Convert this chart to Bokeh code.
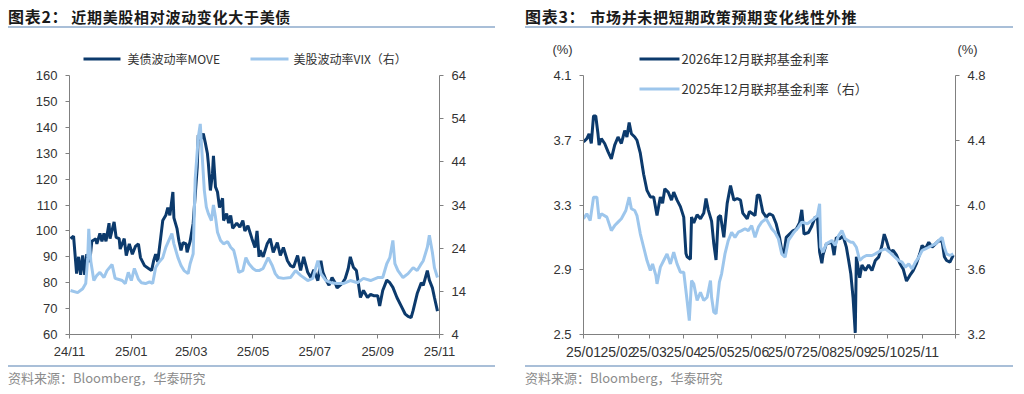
import pandas as pd
from bokeh.plotting import figure
from bokeh.layouts import row, column
from bokeh.models import (Range1d, LinearAxis, FixedTicker, DatetimeTickFormatter,
                          NumeralTickFormatter, Label, BoxAnnotation, Div)
from bokeh.embed import file_html
from bokeh.resources import INLINE

# ---------------- data: chart 2 ----------------
move_dates = ["2024-11-02", "2024-11-05", "2024-11-08", "2024-11-10", "2024-11-12", "2024-11-14",
              "2024-11-16", "2024-11-18", "2024-11-21", "2024-11-23", "2024-11-27", "2024-11-28",
              "2024-12-01", "2024-12-03", "2024-12-05", "2024-12-07", "2024-12-10", "2024-12-11",
              "2024-12-15", "2024-12-17", "2024-12-20", "2024-12-21", "2024-12-25", "2024-12-27",
              "2024-12-30", "2025-01-02", "2025-01-05", "2025-01-08", "2025-01-10", "2025-01-14",
              "2025-01-18", "2025-01-21", "2025-01-23", "2025-01-25", "2025-01-27", "2025-01-30",
              "2025-02-01", "2025-02-04", "2025-02-06", "2025-02-08", "2025-02-11", "2025-02-12",
              "2025-02-15", "2025-02-17", "2025-02-19", "2025-02-21", "2025-02-24", "2025-02-25",
              "2025-02-28", "2025-03-03", "2025-03-07", "2025-03-08", "2025-03-10", "2025-03-13",
              "2025-03-15", "2025-03-17", "2025-03-18", "2025-03-20", "2025-03-22", "2025-03-23",
              "2025-03-25", "2025-03-27", "2025-03-29", "2025-04-01", "2025-04-02", "2025-04-05",
              "2025-04-07", "2025-04-09", "2025-04-11", "2025-04-15", "2025-04-18", "2025-04-21",
              "2025-04-23", "2025-04-26", "2025-04-30", "2025-05-03", "2025-05-05", "2025-05-07",
              "2025-05-08", "2025-05-11", "2025-05-15", "2025-05-18", "2025-05-21", "2025-05-25",
              "2025-05-28", "2025-05-31", "2025-06-04", "2025-06-07", "2025-06-10", "2025-06-14",
              "2025-06-17", "2025-06-20", "2025-06-24", "2025-06-27", "2025-06-30", "2025-07-04",
              "2025-07-07", "2025-07-09", "2025-07-12", "2025-07-15", "2025-07-18", "2025-07-21",
              "2025-07-23", "2025-07-28", "2025-07-31", "2025-08-03", "2025-08-05", "2025-08-08",
              "2025-08-11", "2025-08-13", "2025-08-15", "2025-08-18", "2025-08-22", "2025-08-25",
              "2025-08-28", "2025-09-01", "2025-09-03", "2025-09-06", "2025-09-10", "2025-09-13",
              "2025-09-16", "2025-09-20", "2025-09-25", "2025-09-28", "2025-10-01", "2025-10-04",
              "2025-10-06", "2025-10-10", "2025-10-14", "2025-10-16", "2025-10-20", "2025-10-22",
              "2025-10-25", "2025-10-27", "2025-10-30"]
move_vals = [97, 98, 83.5, 90, 83, 90.5,
             83, 91, 88, 96, 97, 95,
             99, 96, 99, 96, 103, 97,
             103.5, 97.5, 97, 93, 97, 90.5,
             95, 91, 94, 95, 89.7, 86.6,
             85.5, 84.7, 88.5, 91, 88, 97.5,
             104, 106, 109, 106, 115, 105,
             101, 96, 92.5, 95.5, 95, 91.7,
             96, 103, 124.5, 137, 135, 137.6,
             134, 130, 126, 115.6, 122, 129,
             117, 115, 109, 112.6, 104, 106.7,
             103, 106, 101, 103, 101.5, 104,
             100, 102, 97, 93.6, 100, 90,
             92.5, 90, 95, 97, 91.7, 95.5,
             90.5, 93.6, 88.5, 86.6, 86, 90.5,
             84.7, 90, 84, 82, 85, 80.8,
             88.5, 84, 81, 79, 82, 80,
             78, 79.7, 81.6, 85.5, 90, 86,
             84.7, 79.7, 74.3, 77, 74.3, 75.5,
             75, 75, 71, 77, 81, 80,
             78.2, 74.3, 70.4, 68, 67, 66.5,
             69.3, 75.8, 80, 79, 84.7, 81,
             78, 74.3, 69]

vix_dates = ["2024-11-02", "2024-11-09", "2024-11-14", "2024-11-17", "2024-11-19", "2024-11-20",
             "2024-11-22", "2024-11-25", "2024-11-28", "2024-12-01", "2024-12-05", "2024-12-08",
             "2024-12-13", "2024-12-16", "2024-12-19", "2024-12-23", "2024-12-26", "2024-12-29",
             "2025-01-01", "2025-01-04", "2025-01-08", "2025-01-11", "2025-01-15", "2025-01-19",
             "2025-01-22", "2025-01-25", "2025-01-28", "2025-02-01", "2025-02-04", "2025-02-07",
             "2025-02-10", "2025-02-12", "2025-02-16", "2025-02-19", "2025-02-22", "2025-02-26",
             "2025-02-28", "2025-03-03", "2025-03-05", "2025-03-08", "2025-03-10", "2025-03-12",
             "2025-03-14", "2025-03-16", "2025-03-18", "2025-03-21", "2025-03-23", "2025-03-25",
             "2025-03-27", "2025-03-30", "2025-04-02", "2025-04-06", "2025-04-09", "2025-04-12",
             "2025-04-14", "2025-04-17", "2025-04-21", "2025-04-24", "2025-04-27", "2025-05-01",
             "2025-05-04", "2025-05-07", "2025-05-11", "2025-05-16", "2025-05-20", "2025-05-23",
             "2025-05-26", "2025-05-31", "2025-06-07", "2025-06-12", "2025-06-17", "2025-06-24",
             "2025-06-29", "2025-07-04", "2025-07-07", "2025-07-12", "2025-07-17", "2025-07-23",
             "2025-07-29", "2025-08-05", "2025-08-12", "2025-08-18", "2025-08-25", "2025-09-01",
             "2025-09-06", "2025-09-10", "2025-09-13", "2025-09-16", "2025-09-18", "2025-09-21",
             "2025-09-26", "2025-10-01", "2025-10-06", "2025-10-10", "2025-10-13", "2025-10-16",
             "2025-10-20", "2025-10-22", "2025-10-25", "2025-10-27", "2025-10-30"]
vix_vals = [14.2, 13.7, 14.6, 15.8, 21.8, 28.5,
            21, 16.5, 17.7, 18.4, 17.2, 18.8,
            20.2, 17, 16.8, 16.5, 15.8, 18.4,
            16.5, 19.3, 16.8, 16, 15.8, 16.2,
            15.8, 19.5, 20.7, 21.8, 24.2, 25.8,
            27.4, 25, 21.8, 20, 18.8, 18.1,
            20.4, 22.7, 40, 49.6, 52.8, 45,
            37.4, 33.5, 32, 30.4, 34, 31.2,
            27.7, 25.8, 25, 25.5, 24.2, 23.5,
            21.6, 18.4, 18.8, 21.8, 20.4, 19.3,
            18.8, 18.8, 19.3, 21.8, 20, 18.1,
            17.2, 17, 17.2, 18.8, 17.7, 16.5,
            17, 21.1, 18.1, 16.5, 16, 15.8,
            15.8, 16.5, 16, 17, 16.5, 17.2,
            17.2, 20.4, 21.8, 25.8, 20.4, 18.8,
            17.2, 18.1, 19.5, 18.8, 20, 21.1,
            24.2, 27, 23, 19.5, 17.2]

left_xticks = ["2024-11-01", "2025-01-01", "2025-03-01", "2025-05-01",
               "2025-07-01", "2025-09-01", "2025-11-01"]
left_yticks = [60, 70, 80, 90, 100, 110, 120, 130, 140, 150, 160]
right_yticks = [4, 14, 24, 34, 44, 54, 64]

# ---------------- data: chart 3 ----------------
fed26_dates = ["2025-01-01", "2025-01-04", "2025-01-06", "2025-01-08", "2025-01-10", "2025-01-12",
               "2025-01-14", "2025-01-15", "2025-01-17", "2025-01-20", "2025-01-23", "2025-01-26",
               "2025-01-29", "2025-02-01", "2025-02-04", "2025-02-07", "2025-02-09", "2025-02-11",
               "2025-02-13", "2025-02-16", "2025-02-18", "2025-02-21", "2025-02-24", "2025-02-27",
               "2025-03-02", "2025-03-05", "2025-03-08", "2025-03-11", "2025-03-13", "2025-03-15",
               "2025-03-18", "2025-03-21", "2025-03-23", "2025-03-26", "2025-03-29", "2025-04-01",
               "2025-04-03", "2025-04-04", "2025-04-07", "2025-04-08", "2025-04-10", "2025-04-13",
               "2025-04-16", "2025-04-19", "2025-04-21", "2025-04-23", "2025-04-26", "2025-04-28",
               "2025-04-30", "2025-05-02", "2025-05-04", "2025-05-07", "2025-05-10", "2025-05-13",
               "2025-05-16", "2025-05-19", "2025-05-22", "2025-05-24", "2025-05-28", "2025-05-30",
               "2025-06-04", "2025-06-06", "2025-06-08", "2025-06-11", "2025-06-14", "2025-06-17",
               "2025-06-20", "2025-06-23", "2025-06-26", "2025-06-28", "2025-06-30", "2025-07-02",
               "2025-07-05", "2025-07-08", "2025-07-11", "2025-07-14", "2025-07-16", "2025-07-18",
               "2025-07-22", "2025-07-25", "2025-07-28", "2025-07-30", "2025-08-01", "2025-08-03",
               "2025-08-04", "2025-08-07", "2025-08-12", "2025-08-14", "2025-08-16", "2025-08-19",
               "2025-08-22", "2025-08-25", "2025-08-27", "2025-08-29", "2025-08-31", "2025-09-02",
               "2025-09-03", "2025-09-06", "2025-09-08", "2025-09-11", "2025-09-14", "2025-09-17",
               "2025-09-20", "2025-09-23", "2025-09-26", "2025-09-28", "2025-09-30", "2025-10-03",
               "2025-10-06", "2025-10-09", "2025-10-12", "2025-10-15", "2025-10-18", "2025-10-21",
               "2025-10-24", "2025-10-27", "2025-10-30", "2025-11-01", "2025-11-04", "2025-11-07",
               "2025-11-10", "2025-11-13", "2025-11-16", "2025-11-19", "2025-11-21", "2025-11-23",
               "2025-11-26", "2025-11-29"]
fed26_vals = [3.69, 3.71, 3.74, 3.68, 3.85, 3.85,
              3.74, 3.67, 3.71, 3.68, 3.63, 3.585,
              3.67, 3.72, 3.68, 3.76, 3.72, 3.81,
              3.74, 3.72, 3.70, 3.62, 3.49, 3.39,
              3.35, 3.35, 3.235, 3.35, 3.31, 3.40,
              3.38, 3.33, 3.38, 3.33, 3.29, 3.225,
              3.00, 2.98, 2.965, 3.225, 3.19, 3.24,
              3.215, 3.25, 3.34, 3.27, 3.20, 3.06,
              2.96, 3.225, 3.235, 3.10, 3.31, 3.42,
              3.33, 3.34, 3.33, 3.25, 3.215, 3.26,
              3.235, 3.36, 3.36, 3.256, 3.225, 3.246,
              3.235, 3.184, 3.10, 3.02, 3.00, 3.10,
              3.12, 3.14, 3.15, 3.19, 3.27, 3.12,
              3.13, 3.17, 3.225, 3.22, 3.01, 2.94,
              2.99, 3.06, 3.07, 2.99, 3.10, 3.09,
              3.11, 3.04, 2.96, 2.875, 2.73, 2.51,
              2.98, 2.85, 2.93, 2.895, 2.93, 2.895,
              2.957, 2.978, 3.05, 3.12, 3.08, 3.01,
              3.02, 2.99, 2.94, 2.905, 2.83, 2.865,
              2.895, 2.94, 3.00, 3.05, 3.03, 3.07,
              3.04, 3.06, 3.08, 3.075, 2.98, 2.957,
              2.947, 2.99]

fed25_dates = ["2025-01-01", "2025-01-04", "2025-01-07", "2025-01-10", "2025-01-13", "2025-01-15",
               "2025-01-17", "2025-01-22", "2025-01-26", "2025-01-29", "2025-02-01", "2025-02-04",
               "2025-02-08", "2025-02-11", "2025-02-13", "2025-02-16", "2025-02-18", "2025-02-21",
               "2025-02-24", "2025-02-27", "2025-03-02", "2025-03-04", "2025-03-07", "2025-03-08",
               "2025-03-11", "2025-03-14", "2025-03-17", "2025-03-20", "2025-03-23", "2025-03-26",
               "2025-03-29", "2025-04-01", "2025-04-04", "2025-04-06", "2025-04-08", "2025-04-10",
               "2025-04-13", "2025-04-16", "2025-04-19", "2025-04-22", "2025-04-25", "2025-04-26",
               "2025-04-28", "2025-04-30", "2025-05-03", "2025-05-05", "2025-05-08", "2025-05-11",
               "2025-05-14", "2025-05-17", "2025-05-20", "2025-05-23", "2025-05-26", "2025-05-29",
               "2025-06-01", "2025-06-04", "2025-06-07", "2025-06-10", "2025-06-14", "2025-06-19",
               "2025-06-22", "2025-06-25", "2025-06-28", "2025-07-01", "2025-07-04", "2025-07-09",
               "2025-07-13", "2025-07-16", "2025-07-21", "2025-07-25", "2025-07-30", "2025-08-01",
               "2025-08-02", "2025-08-04", "2025-08-07", "2025-08-12", "2025-08-15", "2025-08-18",
               "2025-08-21", "2025-08-24", "2025-08-29", "2025-08-31", "2025-09-03", "2025-09-06",
               "2025-09-09", "2025-09-12", "2025-09-17", "2025-09-20", "2025-09-25", "2025-09-29",
               "2025-10-03", "2025-10-06", "2025-10-11", "2025-10-14", "2025-10-17", "2025-10-20",
               "2025-10-23", "2025-10-26", "2025-10-29", "2025-11-01", "2025-11-04", "2025-11-07",
               "2025-11-10", "2025-11-13", "2025-11-16", "2025-11-19", "2025-11-21", "2025-11-23",
               "2025-11-26", "2025-11-29"]
fed25_vals = [3.915, 3.946, 3.904, 4.048, 4.048, 3.915,
              3.946, 3.925, 3.842, 3.873, 3.894, 3.915,
              3.966, 4.048, 3.977, 3.966, 3.935, 3.822,
              3.739, 3.657, 3.595, 3.636, 3.564, 3.513,
              3.616, 3.657, 3.698, 3.636, 3.708, 3.636,
              3.585, 3.585, 3.41, 3.286, 3.533, 3.513,
              3.41, 3.461, 3.41, 3.43, 3.533, 3.43,
              3.338, 3.328, 3.523, 3.575, 3.698, 3.781,
              3.832, 3.80, 3.832, 3.842, 3.853, 3.842,
              3.873, 3.80, 3.863, 3.894, 3.915, 3.853,
              3.83, 3.791, 3.698, 3.677, 3.781, 3.832,
              3.863, 3.894, 3.884, 3.904, 3.935, 4.007,
              3.739, 3.708, 3.76, 3.781, 3.75, 3.811,
              3.842, 3.791, 3.77, 3.77, 3.739, 3.657,
              3.677, 3.688, 3.688, 3.698, 3.719, 3.729,
              3.708, 3.688, 3.657, 3.647, 3.616, 3.636,
              3.605, 3.647, 3.677, 3.719, 3.729, 3.739,
              3.75, 3.76, 3.781, 3.80, 3.739, 3.698,
              3.688, 3.698]

r_xticks = ["2025-01-01", "2025-02-01", "2025-03-01", "2025-04-01", "2025-05-01", "2025-06-01",
            "2025-07-01", "2025-08-01", "2025-09-01", "2025-10-01", "2025-11-01"]
r_xend = "2025-12-01"
r_left_yticks = [2.5, 2.9, 3.3, 3.7, 4.1]
r_right_yticks = [3.2, 3.6, 4.0, 4.4, 4.8]

# ---------------- styling ----------------
DARK = "#0C3A6C"
LIGHT = "#9DC6EC"
AXIS = "#808080"
TICKTXT = "#333333"
RULE = "#A9BFD8"
SRC = "#8C8C8C"
CJK = "Noto Sans CJK SC"
LAT = "Liberation Sans"
LW = 3

TOP_H = 30       # title strip height
FIG_H = 335      # figure height
SRC_H = 29       # source strip height
FRAME_TOP = 75   # page y of the value-axis top
FRAME_BOT = 334  # page y of the value-axis bottom


def ms(s):
    return pd.Timestamp(s).value // 10**6


def style_axis(ax, size="13px"):
    ax.axis_line_color = AXIS
    ax.axis_line_width = 1
    ax.major_tick_line_color = AXIS
    ax.minor_tick_line_color = AXIS
    ax.major_tick_out = 4
    ax.major_tick_in = 0
    ax.minor_tick_out = 4
    ax.minor_tick_in = 0
    ax.major_label_text_font = LAT
    ax.major_label_text_font_size = size
    ax.major_label_text_color = TICKTXT
    ax.major_label_standoff = 8


def add_text(p, x, y, text, size, color, font, align="left", place="center"):
    lab = Label(x=x, y=y, x_units="screen", y_units="screen", text=text,
                text_font=font, text_font_size=f"{size}px", text_color=color,
                text_baseline="middle", text_align=align)
    p.add_layout(lab, place)


def add_bar(p, x0, x1, y0, y1, color):
    p.add_layout(BoxAnnotation(left=x0, right=x1, bottom=y0, top=y1,
                               left_units="screen", right_units="screen",
                               top_units="screen", bottom_units="screen",
                               fill_color=color, fill_alpha=1.0, line_color=None))


def extended_top(y0, y1):
    # value at the figure's top edge, so that y1 sits at FRAME_TOP
    return y1 + (FRAME_TOP - TOP_H) * (y1 - y0) / (FRAME_BOT - FRAME_TOP)


def base_fig(x0, x1, y0, y1, bl, br):
    p = figure(width=512, height=FIG_H, x_axis_type="datetime", output_backend="svg",
               toolbar_location=None, x_range=Range1d(ms(x0), ms(x1)),
               y_range=Range1d(y0, extended_top(y0, y1)))
    p.min_border_left = bl
    p.min_border_right = br
    p.min_border_top = 0
    p.min_border_bottom = TOP_H + FIG_H - FRAME_BOT
    p.outline_line_color = None
    p.xgrid.visible = False
    p.ygrid.visible = False
    p.background_fill_color = "white"
    p.border_fill_color = "white"
    return p


def title_div(prefix, text, pad, w, gap):
    html = (f'<div style="margin-left:{pad}px;width:{w}px;padding-top:7px;line-height:18px;'
            f'border-bottom:2px solid {RULE};font-family:\'{CJK}\';font-weight:bold;'
            f'font-size:15px;letter-spacing:0.7px;color:#1A1A1A;white-space:nowrap;">'
            f'<span style="margin-right:{gap}px;font-size:16px;">{prefix}</span>{text}</div>')
    return Div(text=html, width=512, height=TOP_H, margin=0)


def source_div(text, pad, w):
    html = (f'<div style="margin-left:{pad}px;width:{w}px;border-top:2px solid {RULE};'
            f'line-height:22px;font-family:\'{CJK}\';font-size:13px;color:{SRC};'
            f'white-space:nowrap;">{text}</div>')
    return Div(text=html, width=512, height=SRC_H, margin=0)


# ================= chart 2 =================
FL = 69


def L(x, y):
    return x - FL, FRAME_BOT - y


p1 = base_fig("2024-11-01", "2025-11-01", 60, 160, FL, 512 - 439)
p1.extra_y_ranges = {"r": Range1d(4, extended_top(4, 64))}
p1.xaxis.ticker = FixedTicker(ticks=[ms(d) for d in left_xticks])
p1.xaxis.formatter = DatetimeTickFormatter(days="%y/%m", months="%y/%m", years="%y/%m")
p1.yaxis.ticker = FixedTicker(ticks=left_yticks)
p1.yaxis.bounds = (60, 160)
ax_r1 = LinearAxis(y_range_name="r", ticker=FixedTicker(ticks=right_yticks), bounds=(4, 64))
p1.add_layout(ax_r1, "right")
for ax in [p1.xaxis[0], p1.yaxis[0], ax_r1]:
    style_axis(ax)
p1.xaxis.major_label_standoff = 5

md = list(zip(move_dates, move_vals))
vd = list(zip(vix_dates, vix_vals))
p1.line(pd.to_datetime([d for d, _ in md]), [v for _, v in md], line_color=DARK, line_width=LW)
p1.line(pd.to_datetime([d for d, _ in vd]), [v for _, v in vd], line_color=LIGHT, line_width=LW,
        y_range_name="r")

add_bar(p1, *[83 - FL, 120 - FL], FRAME_BOT - 60, FRAME_BOT - 57, DARK)
add_text(p1, *L(127, 58), "美债波动率MOVE", 12, TICKTXT, CJK)
add_bar(p1, *[250 - FL, 288 - FL], FRAME_BOT - 60, FRAME_BOT - 57, LIGHT)
add_text(p1, *L(293, 58), "美股波动率VIX（右）", 12, TICKTXT, CJK)

# ================= chart 3 =================
GL = 583 - 512
GR = 955 - 512


def R(x, y):
    return x - 583, FRAME_BOT - y


p2 = base_fig("2025-01-01", r_xend, 2.5, 4.1, GL, 512 - GR)
p2.extra_y_ranges = {"r": Range1d(3.2, extended_top(3.2, 4.8))}
p2.xaxis.ticker = FixedTicker(ticks=[ms(d) for d in r_xticks], minor_ticks=[ms(r_xend)])
p2.xaxis.formatter = DatetimeTickFormatter(days="%y/%m", months="%y/%m", years="%y/%m")
p2.yaxis.ticker = FixedTicker(ticks=r_left_yticks)
p2.yaxis.formatter = NumeralTickFormatter(format="0.0")
p2.yaxis.bounds = (2.5, 4.1)
ax_r2 = LinearAxis(y_range_name="r", ticker=FixedTicker(ticks=r_right_yticks),
                   formatter=NumeralTickFormatter(format="0.0"), bounds=(3.2, 4.8))
p2.add_layout(ax_r2, "right")
for ax in [p2.xaxis[0], p2.yaxis[0], ax_r2]:
    style_axis(ax)
p2.xaxis.major_label_text_font_size = "14px"
p2.xaxis.major_label_standoff = 5

d26 = list(zip(fed26_dates, fed26_vals))
d25 = list(zip(fed25_dates, fed25_vals))
p2.line(pd.to_datetime([d for d, _ in d26]), [v for _, v in d26], line_color=DARK, line_width=LW)
p2.line(pd.to_datetime([d for d, _ in d25]), [v for _, v in d25], line_color=LIGHT, line_width=LW,
        y_range_name="r")

add_bar(p2, 639 - 583, 679 - 583, FRAME_BOT - 60, FRAME_BOT - 57, DARK)
add_text(p2, *R(681, 58), "2026年12月联邦基金利率", 13, TICKTXT, CJK)
add_bar(p2, 639 - 583, 679 - 583, FRAME_BOT - 90, FRAME_BOT - 87, LIGHT)
add_text(p2, *R(681, 88), "2025年12月联邦基金利率（右）", 13, TICKTXT, CJK)
# "(%)" unit labels live in the side panels next to the value axes
add_text(p2, 32, FRAME_BOT - 49, "(%)", 13, TICKTXT, LAT, align="center", place="left")
add_text(p2, -21, FRAME_BOT - 49, "(%)", 13, TICKTXT, LAT, align="center", place="right")

layout = column(
    row(title_div("图表2：", "近期美股相对波动变化大于美债", 8, 487, 3),
        title_div("图表3：", "市场并未把短期政策预期变化线性外推", 13, 488, 5)),
    row(p1, p2),
    row(source_div("资料来源：Bloomberg，华泰研究", 8, 487),
        source_div("资料来源：Bloomberg，华泰研究", 13, 488)),
)
with open("out.html", "w") as f:
    f.write(file_html(layout, INLINE))
